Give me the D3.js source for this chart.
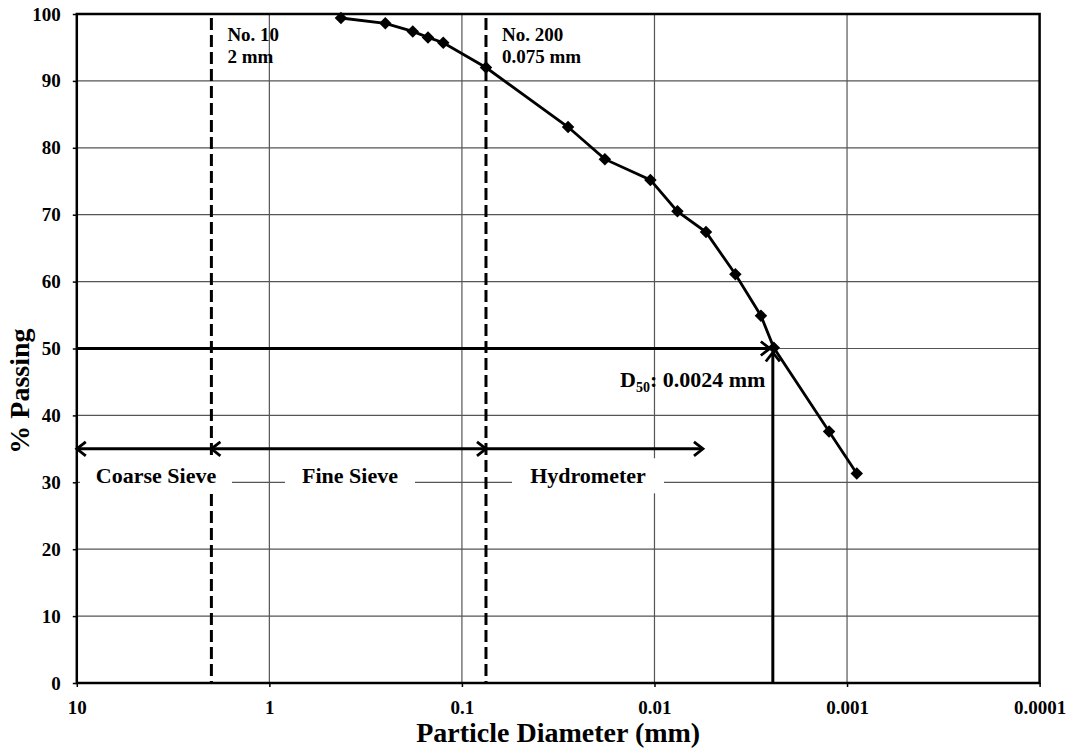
<!DOCTYPE html>
<html>
<head>
<meta charset="utf-8">
<script src="https://cdn.jsdelivr.net/npm/d3@7"></script>
<style>
  body { margin: 0; background: #fff; }
  svg text { font-family: "Liberation Serif", "Times New Roman", serif; font-weight: bold; fill: #000; }
</style>
</head>
<body>
<div id="vis"></div>
<script>
// grain size distribution
const diameters = [0.425, 0.25, 0.18, 0.15, 0.125, 0.075, 0.0281, 0.0181, 0.0105, 0.0076, 0.0054, 0.0038, 0.0028, 0.0024, 0.00124, 0.00089];
const passing = [99.4, 98.6, 97.4, 96.5, 95.7, 92.0, 83.1, 78.3, 75.2, 70.5, 67.4, 61.1, 54.9, 50.1, 37.6, 31.3];

const xTicks = [10, 1, 0.1, 0.01, 0.001, 0.0001];
const yTicks = [0, 10, 20, 30, 40, 50, 60, 70, 80, 90, 100];

// sieve limits and ranges
const sieves = [
  { size: 2, lines: ["No. 10", "2 mm"] },
  { size: 0.075, lines: ["No. 200", "0.075 mm"] }
];
const ranges = [
  { name: "Coarse Sieve", from: 2, to: 10, heads: "end" },
  { name: "Fine Sieve", from: 2, to: 0.075, heads: "both" },
  { name: "Hydrometer", from: 0.075, to: 0.0056, heads: "end" }
];
const rangeLevel = 35;
const labelLevel = 30;
const d50 = 0.0024;

const layout = {
  width: 1068,
  height: 753,
  left: 76.8,
  right: 1039.6,
  top: 14,
  bottom: 683
};

let svg = d3.select("#vis").append("svg")
  .attr("width", layout.width)
  .attr("height", layout.height);

let xScale = d3.scaleLog().domain([10, 0.0001]).range([layout.left, layout.right]);
let yScale = d3.scaleLinear().domain([0, 100]).range([layout.bottom, layout.top]);

// arrow heads (open V)
let defs = svg.append("defs");
defs.append("marker")
  .attr("id", "head")
  .attr("markerUnits", "userSpaceOnUse")
  .attr("markerWidth", 20).attr("markerHeight", 20)
  .attr("viewBox", "-12 -10 14 20")
  .attr("refX", 0).attr("refY", 0)
  .attr("orient", "auto-start-reverse")
  .append("path")
  .attr("d", "M-9,-7 L0,0 L-9,7")
  .attr("fill", "none")
  .attr("stroke", "#000")
  .attr("stroke-width", 2.8);

// gridlines
svg.append("g")
  .selectAll("line")
  .data(yTicks.filter(d => d > 0 && d < 100))
  .join("line")
  .attr("x1", layout.left).attr("x2", layout.right)
  .attr("y1", d => yScale(d)).attr("y2", d => yScale(d))
  .attr("stroke", "#555").attr("stroke-width", 1.2);
svg.append("g")
  .selectAll("line")
  .data(xTicks.slice(1, -1))
  .join("line")
  .attr("x1", d => xScale(d)).attr("x2", d => xScale(d))
  .attr("y1", layout.top).attr("y2", layout.bottom)
  .attr("stroke", "#555").attr("stroke-width", 1.2);

// axes
let yAxis = svg.append("g")
  .attr("transform", `translate(${layout.left},0)`)
  .call(d3.axisLeft(yScale).tickValues(yTicks).tickSize(4).tickPadding(12));
yAxis.selectAll("text").attr("font-size", 19).attr("font-family", "Liberation Serif").attr("font-weight", "bold");
yAxis.selectAll("line").attr("stroke", "#000").attr("stroke-width", 1.5);
yAxis.select(".domain").remove();

let xAxis = svg.append("g")
  .attr("transform", `translate(0,${layout.bottom})`)
  .call(d3.axisBottom(xScale).tickValues(xTicks).tickSize(4).tickPadding(14).tickFormat(d => String(d)));
xAxis.selectAll("text").attr("font-size", 19).attr("font-family", "Liberation Serif").attr("font-weight", "bold");
xAxis.selectAll("line").attr("stroke", "#000").attr("stroke-width", 1.5);
xAxis.select(".domain").remove();

// sieve dashed lines
svg.append("g")
  .selectAll("line")
  .data(sieves)
  .join("line")
  .attr("x1", d => xScale(d.size)).attr("x2", d => xScale(d.size))
  .attr("y1", layout.top + 4).attr("y2", layout.bottom)
  .attr("stroke", "#000").attr("stroke-width", 3)
  .attr("stroke-dasharray", "12,5");

// range arrows
svg.append("g")
  .selectAll("line")
  .data(ranges)
  .join("line")
  .attr("x1", d => xScale(d.from)).attr("x2", d => xScale(d.to))
  .attr("y1", yScale(rangeLevel)).attr("y2", yScale(rangeLevel))
  .attr("stroke", "#000").attr("stroke-width", 3)
  .attr("marker-end", "url(#head)")
  .attr("marker-start", d => d.heads === "both" ? "url(#head)" : null);

// range labels with white boxes over the grid
let boxes = [
  { name: "Coarse Sieve", x0: 80, x1: 232 },
  { name: "Fine Sieve", x0: 285, x1: 415 },
  { name: "Hydrometer", x0: 512, x1: 664 }
];
svg.append("g")
  .selectAll("rect")
  .data(boxes)
  .join("rect")
  .attr("x", d => d.x0).attr("width", d => d.x1 - d.x0)
  .attr("y", yScale(labelLevel) - 24).attr("height", 35)
  .attr("fill", "#fff");
svg.append("g")
  .selectAll("text")
  .data(boxes)
  .join("text")
  .attr("x", d => (d.x0 + d.x1) / 2)
  .attr("y", yScale(labelLevel) + 1)
  .attr("text-anchor", "middle")
  .attr("font-size", 22)
  .text(d => d.name);

// D50 arrows
svg.append("line")
  .attr("x1", layout.left).attr("x2", xScale(d50) - 4)
  .attr("y1", yScale(50)).attr("y2", yScale(50))
  .attr("stroke", "#000").attr("stroke-width", 3)
  .attr("marker-end", "url(#head)");
svg.append("line")
  .attr("x1", xScale(d50) - 1).attr("x2", xScale(d50) - 1)
  .attr("y1", layout.bottom).attr("y2", yScale(50) + 4)
  .attr("stroke", "#000").attr("stroke-width", 3)
  .attr("marker-end", "url(#head)");

// data line and markers
let points = diameters.map((d, i) => ({ d: d, p: passing[i] }));
svg.append("path")
  .datum(points)
  .attr("fill", "none")
  .attr("stroke", "#000")
  .attr("stroke-width", 2.8)
  .attr("d", d3.line().x(d => xScale(d.d)).y(d => yScale(d.p)));
svg.append("g")
  .selectAll("path")
  .data(points)
  .join("path")
  .attr("transform", d => `translate(${xScale(d.d)},${yScale(d.p)}) rotate(45)`)
  .attr("d", d3.symbol(d3.symbolSquare, 78))
  .attr("fill", "#000");

// plot border
svg.append("rect")
  .attr("x", layout.left).attr("y", layout.top)
  .attr("width", layout.right - layout.left)
  .attr("height", layout.bottom - layout.top)
  .attr("fill", "none")
  .attr("stroke", "#000").attr("stroke-width", 2.5);

// sieve labels
sieves.forEach(s => {
  let t = svg.append("text")
    .attr("x", xScale(s.size) + 16)
    .attr("y", 41)
    .attr("font-size", 19);
  s.lines.forEach((line, i) => {
    t.append("tspan").attr("x", xScale(s.size) + 16).attr("dy", i === 0 ? 0 : 22).text(line);
  });
});

// D50 label
let d50Text = svg.append("text")
  .attr("x", 620).attr("y", 387)
  .attr("font-size", 22);
d50Text.append("tspan").text("D");
d50Text.append("tspan").attr("font-size", 14).attr("dy", 5).text("50");
d50Text.append("tspan").attr("dy", -5).text(": 0.0024 mm");

// axis titles
svg.append("text")
  .attr("x", (layout.left + layout.right) / 2)
  .attr("y", 742)
  .attr("text-anchor", "middle")
  .attr("font-size", 28)
  .text("Particle Diameter (mm)");
svg.append("text")
  .attr("transform", "translate(29,391) rotate(-90)")
  .attr("text-anchor", "middle")
  .attr("font-size", 28)
  .text("% Passing");
</script>
</body>
</html>
